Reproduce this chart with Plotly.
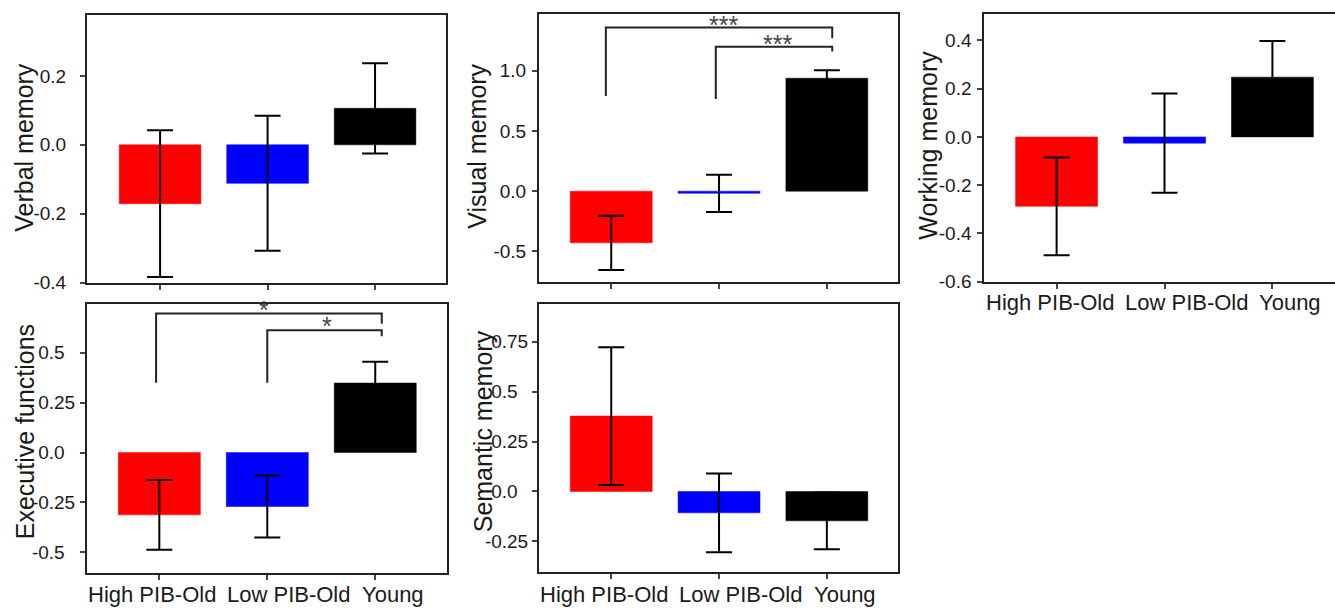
import plotly.graph_objects as go

W, H = 1335, 608          # reference picture size (coordinates below are in it)
FIG_H = 618               # rendered height (the capture is squeezed to 608)
FONT = "Arial, 'Liberation Sans', sans-serif"
NB = "\u00a0"

groups = ["High PIB-Old", "Low PIB-Old", "Young"]
colors = ["#ff0000", "#0000ff", "#000000"]

verbal_mean = [-0.171, -0.112, 0.106]
verbal_err = [0.213, 0.196, 0.131]
visual_mean = [-0.429, -0.018, 0.937]
visual_err = [0.225, 0.154, 0.066]
working_mean = [-0.288, -0.026, 0.248]
working_err = [0.203, 0.206, 0.150]
exec_mean = [-0.312, -0.270, 0.348]
exec_err = [0.175, 0.155, 0.107]
semantic_mean = [0.378, -0.107, -0.147]
semantic_err = [0.345, 0.197, 0.142]

# significance brackets: (x points, y points)
visual_br_outer_x = [-0.05, -0.05, 2.05, 2.05]
visual_br_outer_y = [0.79, 1.357, 1.357, 1.268]
visual_br_inner_x = [0.97, 0.97, 2.05, 2.05]
visual_br_inner_y = [0.765, 1.199, 1.199, 1.158]
exec_br_outer_x = [-0.03, -0.03, 2.06, 2.06]
exec_br_outer_y = [0.35, 0.697, 0.697, 0.645]
exec_br_inner_x = [1.0, 1.0, 2.06, 2.06]
exec_br_inner_y = [0.35, 0.613, 0.613, 0.583]

panels = [
    dict(title="Verbal memory", mean=verbal_mean, err=verbal_err,
         px=(87, 446), py=(15, 283), xr=[-0.68, 2.66], yr=[-0.4, 0.377],
         tv=[-0.4, -0.2, 0.0, 0.2], tt=["-0.4", "-0.2", "0.0", "0.2"],
         so=10, tpos=(24, 148), labels=False, ymirror=True),
    dict(title="Visual memory", mean=visual_mean, err=visual_err,
         px=(539, 898), py=(14, 282), xr=[-0.67, 2.66], yr=[-0.75, 1.47],
         tv=[-0.5, 0.0, 0.5, 1.0], tt=["-0.5", "0.0", "0.5", "1.0"],
         so=2, tpos=(477, 147), labels=False, ymirror=True),
    dict(title="Working memory", mean=working_mean, err=working_err,
         px=(984.3, 1335), py=(14, 282), xr=[-0.67, 2.58], yr=[-0.6, 0.51],
         tv=[-0.6, -0.4, -0.2, 0.0, 0.2, 0.4], tt=["-0.6", "-0.4", "-0.2", "0.0", "0.2", "0.4"],
         so=2, tpos=(928, 146), labels=True, lab_y=303, ymirror=False),
    dict(title="Executive functions", mean=exec_mean, err=exec_err,
         px=(87, 446.5), py=(304.7, 574.3), xr=[-0.67, 2.66], yr=[-0.605, 0.743],
         tv=[-0.5, -0.25, 0.0, 0.25, 0.5],
         tt=["-0.5" + NB * 2, "-0.25", "0.0" + NB * 2, "0.25", "0.5" + NB * 2],
         so=1, tpos=(25, 433), labels=True, lab_y=595, ymirror=True),
    dict(title="Semantic memory", mean=semantic_mean, err=semantic_err,
         px=(539, 898), py=(304.3, 573.3), xr=[-0.67, 2.66], yr=[-0.405, 0.94],
         tv=[-0.25, 0.0, 0.25, 0.5, 0.75],
         tt=["-0.25", "0.0" + NB * 2, "0.25", "0.5" + NB * 2, "0.75"],
         so=0, tpos=(483, 432), labels=True, lab_y=595, ymirror=True),
]

label_shift = [-7, 22, 18]

fig = go.Figure()
annotations = []
layout = dict(width=W, height=FIG_H, margin=dict(l=0, r=0, t=0, b=0),
              paper_bgcolor="white", plot_bgcolor="white", showlegend=False,
              font=dict(family=FONT, color="#1a1a1a"))

for i, p in enumerate(panels, start=1):
    xa = "x" if i == 1 else f"x{i}"
    ya = "y" if i == 1 else f"y{i}"
    fig.add_trace(go.Bar(
        x=[0, 1, 2], y=p["mean"], width=0.76, xaxis=xa, yaxis=ya,
        marker=dict(color=colors, line=dict(color=colors, width=0.5)),
        error_y=dict(type="data", array=p["err"], visible=True, color="black",
                     thickness=2, width=13),
    ))
    xd = [p["px"][0] / W, min(p["px"][1] / W, 1.0)]
    yd = [1 - p["py"][1] / H, 1 - p["py"][0] / H]
    layout["xaxis" if i == 1 else f"xaxis{i}"] = dict(
        domain=xd, range=p["xr"], anchor=ya, showgrid=False, zeroline=False,
        showline=True, linecolor="#222", linewidth=2, mirror=True,
        ticks="outside", ticklen=5, tickwidth=1.5, tickcolor="#444",
        tickvals=[0, 1, 2], showticklabels=False, fixedrange=True)
    layout["yaxis" if i == 1 else f"yaxis{i}"] = dict(
        domain=yd, range=p["yr"], anchor=xa, showgrid=False, zeroline=False,
        showline=True, linecolor="#222", linewidth=2, mirror=p["ymirror"],
        ticks="outside", ticklen=5, tickwidth=1.5, tickcolor="#444",
        tickvals=p["tv"], ticktext=p["tt"], ticklabelstandoff=p["so"],
        tickfont=dict(size=19, family=FONT, color="#1a1a1a"), fixedrange=True)
    annotations.append(dict(
        text=p["title"], textangle=-90, xref="paper", yref="paper",
        x=p["tpos"][0] / W, y=1 - p["tpos"][1] / H,
        xanchor="center", yanchor="middle",
        showarrow=False, font=dict(size=25, family=FONT, color="#1a1a1a")))
    if p["labels"]:
        for k, g in enumerate(groups):
            annotations.append(dict(
                text=g, xref=xa, yref="paper", x=k, xshift=label_shift[k],
                y=1 - p["lab_y"] / H, xanchor="center", yanchor="middle",
                showarrow=False, font=dict(size=22, family=FONT, color="#1a1a1a")))

brackets = [
    ("x2", "y2", visual_br_outer_x, visual_br_outer_y),
    ("x2", "y2", visual_br_inner_x, visual_br_inner_y),
    ("x4", "y4", exec_br_outer_x, exec_br_outer_y),
    ("x4", "y4", exec_br_inner_x, exec_br_inner_y),
]
for xa, ya, bx, by in brackets:
    fig.add_trace(go.Scatter(x=bx, y=by, xaxis=xa, yaxis=ya, mode="lines",
                             line=dict(color="#222", width=2), hoverinfo="skip"))

stars = [
    ("x2", "y2", 1.04, 1.42, "***"),
    ("x2", "y2", 1.54, 1.263, "***"),
    ("x4", "y4", 0.965, 0.74, "*"),
    ("x4", "y4", 1.553, 0.658, "*"),
]
for xa, ya, sx, sy, t in stars:
    annotations.append(dict(text=t, xref=xa, yref=ya, x=sx, y=sy, yshift=-5,
                            xanchor="center", yanchor="middle", showarrow=False,
                            font=dict(size=25, family=FONT, color="#444")))

layout["annotations"] = annotations
fig.update_layout(**layout)
fig.write_html("out.html", config={"displayModeBar": False},
               post_script="document.body.style.margin='0px';document.body.style.overflow='hidden';")
